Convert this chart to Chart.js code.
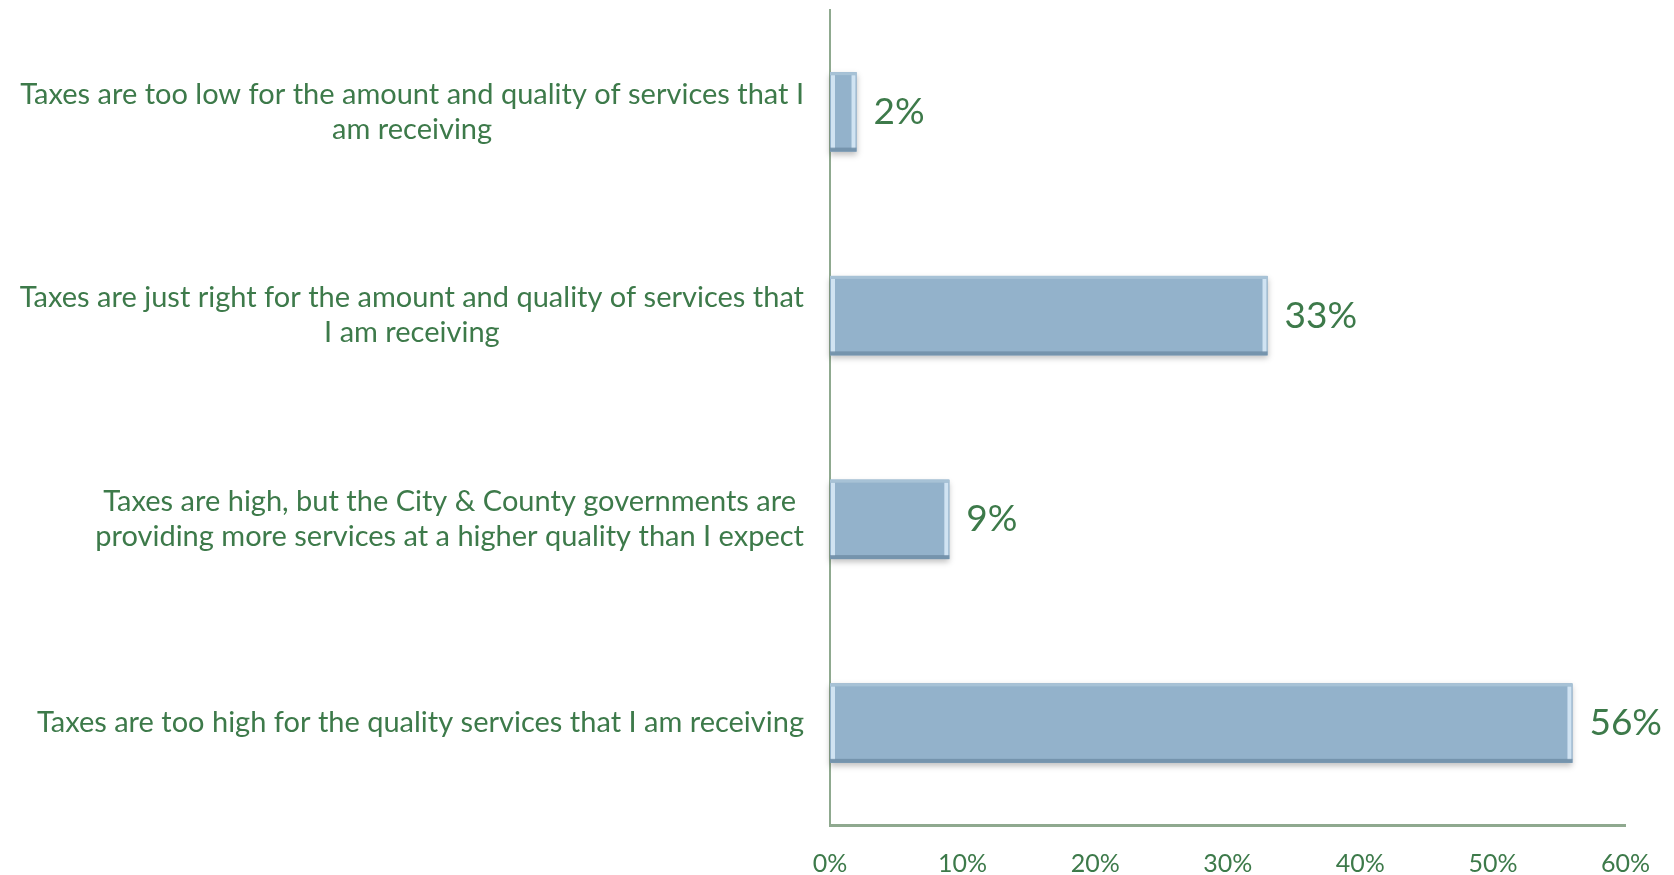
<!DOCTYPE html>
<html>
<head>
<meta charset="utf-8">
<script src="https://cdn.jsdelivr.net/npm/chart.js@4"></script>
<style>
  html, body { margin: 0; padding: 0; background: #fff; }
  #wrap { width: 1674px; height: 875px; position: relative; }
</style>
</head>
<body>
<div id="wrap"><canvas id="chart"></canvas></div>
<script>
const categories = [
    ['Taxes are too low for the amount and quality of services that I', 'am receiving'],
    ['Taxes are just right for the amount and quality of services that', 'I am receiving'],
    ['Taxes are high, but the City & County governments are', 'providing more services at a higher quality than I expect'],
    ['Taxes are too high for the quality services that I am receiving']
];
const shares = [2, 33, 9, 56];
const xTicks = [0, 10, 20, 30, 40, 50, 60];

const GREEN = '#3d7a4a';
const AXIS = '#8fa98f';
const FONT = 'Lato, "Open Sans", sans-serif';

// category labels: block right-aligned to the axis, lines centred inside the block
const categoryLabels = {
    id: 'categoryLabels',
    afterDraw(chart) {
        const ctx = chart.ctx;
        const y = chart.scales.y;
        const right = chart.chartArea.left - 26;
        ctx.save();
        ctx.font = '29px ' + FONT;
        ctx.fillStyle = GREEN;
        ctx.textBaseline = 'middle';
        ctx.textAlign = 'center';
        categories.forEach((lines, i) => {
            const w = Math.max(...lines.map(l => ctx.measureText(l).width));
            const cx = right - w / 2;
            const cy = y.getPixelForTick(i);
            const lh = 35;
            lines.forEach((l, k) => {
                ctx.fillText(l, cx, cy + (k - (lines.length - 1) / 2) * lh);
            });
        });
        ctx.restore();
    }
};

// value labels at the end of each bar plus a soft bevel on the bars
const barDecor = {
    id: 'barDecor',
    beforeDatasetsDraw(chart) {
        const ctx = chart.ctx;
        ctx.save();
        ctx.shadowColor = 'rgba(0,0,0,0.25)';
        ctx.shadowBlur = 6;
        ctx.shadowOffsetY = 3;
        ctx.fillStyle = '#93b2cb';
        chart.getDatasetMeta(0).data.forEach(bar => {
            ctx.fillRect(bar.base, bar.y - bar.height / 2, bar.x - bar.base, bar.height);
        });
        ctx.restore();
    },
    afterDatasetsDraw(chart) {
        const ctx = chart.ctx;
        const meta = chart.getDatasetMeta(0);
        ctx.save();
        meta.data.forEach((bar, i) => {
            const x0 = bar.base, x1 = bar.x;
            const top = bar.y - bar.height / 2, bot = bar.y + bar.height / 2;
            ctx.fillStyle = 'rgba(215,232,246,0.9)';
            ctx.fillRect(x0 + 1, top + 3, 4, bot - top - 6);
            ctx.fillRect(x1 - 5, top + 3, 4, bot - top - 6);
            ctx.fillStyle = 'rgba(110,140,165,0.8)';
            ctx.fillRect(x0, bot - 4, x1 - x0, 4);
            ctx.fillStyle = 'rgba(170,195,215,0.9)';
            ctx.fillRect(x0, top, x1 - x0, 3);

            ctx.font = '37px ' + FONT;
            ctx.fillStyle = GREEN;
            ctx.textAlign = 'left';
            ctx.textBaseline = 'middle';
            ctx.fillText(shares[i] + '%', x1 + 17, bar.y);
        });
        ctx.restore();
    }
};

new Chart(document.getElementById('chart'), {
    type: 'bar',
    data: {
        labels: categories,
        datasets: [{
            data: shares,
            backgroundColor: '#93b2cb',
            borderWidth: 0,
            barPercentage: 0.39,
            categoryPercentage: 1
        }]
    },
    options: {
        indexAxis: 'y',
        responsive: true,
        maintainAspectRatio: false,
        animation: false,
        layout: { padding: { left: 830, right: 26, top: 10, bottom: -28 } },
        plugins: { legend: { display: false }, tooltip: { enabled: false } },
        scales: {
            x: {
                min: 0,
                max: 60,
                afterBuildTicks: axis => { axis.ticks = xTicks.map(v => ({ value: v })); },
                grid: { display: false, drawTicks: false },
                border: { display: true, color: AXIS, width: 3 },
                ticks: {
                    color: GREEN,
                    font: { family: FONT, size: 25 },
                    padding: 24,
                    callback: v => v + '%'
                }
            },
            y: {
                grid: { display: false, drawTicks: false },
                border: { display: true, color: AXIS, width: 2 },
                ticks: { display: false }
            }
        }
    },
    plugins: [categoryLabels, barDecor]
});
</script>
</body>
</html>
